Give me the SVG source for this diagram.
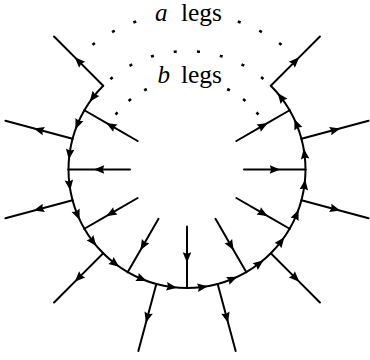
<svg xmlns="http://www.w3.org/2000/svg" width="370" height="360" viewBox="0 0 370 360">
<defs>
  <marker id="ar" markerUnits="userSpaceOnUse" markerWidth="16" markerHeight="16" viewBox="-8 -8 16 16" refX="0" refY="0" orient="auto">
    <path d="M5.5,0 L-5,-4.3 L-3.6,0 L-5,4.3 Z" fill="#000"/>
  </marker>
</defs>
<rect width="370" height="360" fill="#fff"/>
<g id="connectors" fill="none" stroke="#000" stroke-width="2" stroke-linecap="round" stroke-linejoin="round" marker-mid="url(#ar)">
  <g id="arc">
    <path d="M103.21,85.71 A118.5,118.5 0 0 0 92.99,97.36 A118.5,118.5 0 0 0 84.38,110.25"/>
    <path d="M84.38,110.25 A118.5,118.5 0 0 0 77.52,124.15 A118.5,118.5 0 0 0 72.54,138.83"/>
    <path d="M72.54,138.83 A118.5,118.5 0 0 0 69.51,154.03 A118.5,118.5 0 0 0 68.5,169.5"/>
    <path d="M68.5,169.5 A118.5,118.5 0 0 0 69.51,184.97 A118.5,118.5 0 0 0 72.54,200.17"/>
    <path d="M72.54,200.17 A118.5,118.5 0 0 0 77.52,214.85 A118.5,118.5 0 0 0 84.38,228.75"/>
    <path d="M84.38,228.75 A118.5,118.5 0 0 0 92.99,241.64 A118.5,118.5 0 0 0 103.21,253.29"/>
    <path d="M103.21,253.29 A118.5,118.5 0 0 0 114.86,263.51 A118.5,118.5 0 0 0 127.75,272.12"/>
    <path d="M127.75,272.12 A118.5,118.5 0 0 0 141.65,278.98 A118.5,118.5 0 0 0 156.33,283.96"/>
    <path d="M156.33,283.96 A118.5,118.5 0 0 0 171.53,286.99 A118.5,118.5 0 0 0 187,288"/>
    <path d="M187,288 A118.5,118.5 0 0 0 202.47,286.99 A118.5,118.5 0 0 0 217.67,283.96"/>
    <path d="M217.67,283.96 A118.5,118.5 0 0 0 232.35,278.98 A118.5,118.5 0 0 0 246.25,272.12"/>
    <path d="M246.25,272.12 A118.5,118.5 0 0 0 259.14,263.51 A118.5,118.5 0 0 0 270.79,253.29"/>
    <path d="M270.79,253.29 A118.5,118.5 0 0 0 281.01,241.64 A118.5,118.5 0 0 0 289.62,228.75"/>
    <path d="M289.62,228.75 A118.5,118.5 0 0 0 296.48,214.85 A118.5,118.5 0 0 0 301.46,200.17"/>
    <path d="M301.46,200.17 A118.5,118.5 0 0 0 304.49,184.97 A118.5,118.5 0 0 0 305.5,169.5"/>
    <path d="M305.5,169.5 A118.5,118.5 0 0 0 304.49,154.03 A118.5,118.5 0 0 0 301.46,138.83"/>
    <path d="M301.46,138.83 A118.5,118.5 0 0 0 296.48,124.15 A118.5,118.5 0 0 0 289.62,110.25"/>
    <path d="M289.62,110.25 A118.5,118.5 0 0 0 281.01,97.36 A118.5,118.5 0 0 0 270.79,85.71"/>
  </g>
  <g id="outgoing-legs">
    <path d="M103.21,85.71 L78.64,61.14 L54.06,36.56"/>
    <path d="M72.54,138.83 L38.97,129.84 L5.40,120.84"/>
    <path d="M72.54,200.17 L38.97,209.17 L5.40,218.16"/>
    <path d="M103.21,253.29 L78.64,277.87 L54.06,302.44"/>
    <path d="M156.33,283.96 L147.34,317.53 L138.34,351.10"/>
    <path d="M217.67,283.96 L226.67,317.53 L235.66,351.10"/>
    <path d="M270.79,253.29 L295.37,277.87 L319.94,302.44"/>
    <path d="M301.46,200.17 L335.03,209.17 L368.60,218.16"/>
    <path d="M301.46,138.83 L335.03,129.84 L368.60,120.84"/>
    <path d="M270.79,85.71 L295.37,61.14 L319.94,36.56"/>
  </g>
  <g id="incoming-legs">
    <path d="M137.64,141.0 L111.01,125.63 L84.38,110.25"/>
    <path d="M130,169.5 L99.25,169.5 L68.5,169.5"/>
    <path d="M137.64,198.0 L111.01,213.38 L84.38,228.75"/>
    <path d="M158.5,218.86 L143.13,245.49 L127.75,272.12"/>
    <path d="M187,226.5 L187,257.25 L187,288"/>
    <path d="M215.5,218.86 L230.88,245.49 L246.25,272.12"/>
    <path d="M236.36,198.0 L262.99,213.38 L289.62,228.75"/>
    <path d="M244,169.5 L274.75,169.5 L305.5,169.5"/>
    <path d="M236.36,141.0 L262.99,125.63 L289.62,110.25"/>
  </g>
</g>
<g id="dotted" fill="none" stroke="#000" stroke-width="2.6" stroke-linecap="butt">
  <path d="M103.21,85.71 A118.5,118.5 0 0 1 270.79,85.71" stroke-dasharray="3 20.27" stroke-dashoffset="13.39"/>
  <path d="M92.45,44.75 A156.5,156.5 0 0 1 136.20,21.48" stroke-dasharray="3 20.35"/>
  <path d="M237.80,21.48 A156.5,156.5 0 0 1 281.55,44.75" stroke-dasharray="3 20.35"/>
  <path d="M115.6,114.6 A90,90 0 0 1 146.8,89.0" stroke-dasharray="3 15.85"/>
  <path d="M227.2,89.0 A90,90 0 0 1 258.4,114.6" stroke-dasharray="3 15.85"/>
</g>
<g id="labels" font-family="'Liberation Serif', 'Times New Roman', serif" font-size="25" fill="#000">
  <text y="21"><tspan font-style="italic" x="155">a</tspan><tspan x="181" textLength="41" lengthAdjust="spacingAndGlyphs">legs</tspan></text>
  <text y="83"><tspan font-style="italic" x="157.5">b</tspan><tspan x="181" textLength="41" lengthAdjust="spacingAndGlyphs">legs</tspan></text>
</g>
</svg>
